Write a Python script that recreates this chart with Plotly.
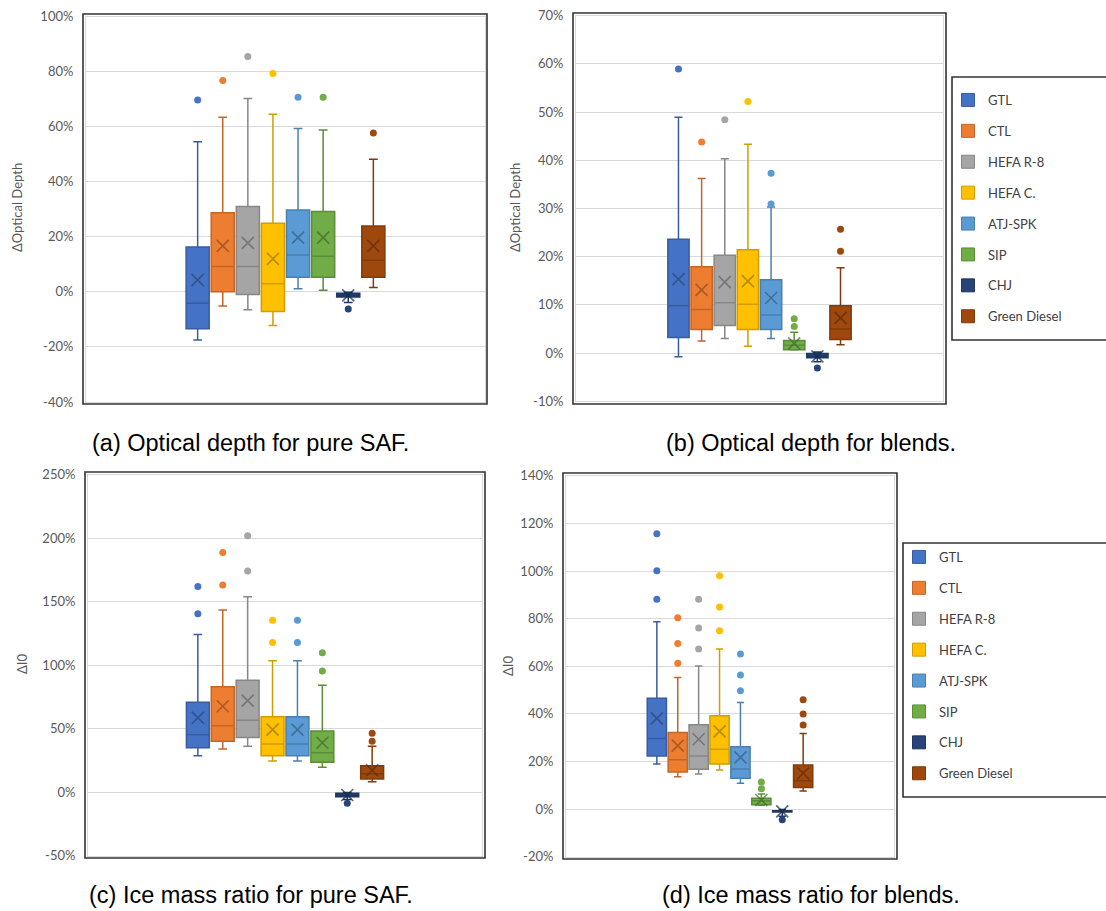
import plotly.graph_objects as go

W, H = 1106, 911

categories = ["GTL", "CTL", "HEFA R-8", "HEFA C.", "ATJ-SPK", "SIP", "CHJ", "Green Diesel"]
fill_colors = ["#4472C4", "#ED7D31", "#A5A5A5", "#FFC000", "#5B9BD5", "#70AD47", "#264478", "#9E480E"]

# ---- (a) optical depth change, pure SAF [%] ----
od_pure_low = [-17.5, -5.1, -6.5, -12.2, 1.1, 0.6, -3.9, 1.6]
od_pure_q1 = [-13.4, 0.0, -1.0, -7.1, 5.3, 5.3, -1.9, 5.3]
od_pure_median = [-4.1, 9.2, 9.2, 2.9, 13.4, 12.9, -1.2, 11.5]
od_pure_q3 = [16.3, 28.7, 31.0, 24.9, 29.7, 29.2, -0.5, 23.9]
od_pure_high = [54.5, 63.4, 70.2, 64.5, 59.3, 58.8, -0.1, 48.2]
od_pure_mean = [4.3, 16.7, 17.8, 12.0, 19.7, 19.7, -1.3, 16.7]
od_pure_outliers = [[69.7], [76.8], [85.5], [79.3], [70.7], [70.7], [-6.2], [57.7]]

# ---- (b) optical depth change, blends [%] ----
od_blend_low = [-0.8, 2.5, 3.0, 1.4, 3.0, 0.6, -1.8, 1.7]
od_blend_q1 = [3.2, 4.9, 5.7, 4.9, 4.9, 0.7, -1.0, 2.8]
od_blend_median = [9.8, 9.0, 10.4, 10.1, 7.9, 1.6, -0.6, 5.0]
od_blend_q3 = [23.6, 17.9, 20.3, 21.4, 15.2, 2.6, -0.1, 9.8]
od_blend_high = [48.9, 36.2, 40.3, 43.3, 30.3, 4.3, 0.2, 17.7]
od_blend_mean = [15.3, 13.1, 14.7, 14.9, 11.4, 2.0, -0.7, 7.3]
od_blend_outliers = [[58.9], [43.8], [48.4], [52.2], [37.3, 30.9], [7.1, 5.5], [-3.1], [25.7, 21.1]]

# ---- (c) ice mass ratio change, pure SAF [%] ----
ice_pure_low = [28.6, 33.9, 36.0, 24.4, 24.4, 19.4, -6.0, 8.1]
ice_pure_q1 = [34.9, 39.9, 43.0, 28.6, 28.6, 23.4, -3.8, 10.2]
ice_pure_median = [45.1, 52.2, 56.4, 37.8, 37.8, 31.0, -2.5, 14.4]
ice_pure_q3 = [70.6, 82.9, 87.9, 59.3, 59.3, 48.0, -1.0, 20.7]
ice_pure_high = [124.1, 143.3, 153.8, 103.4, 103.4, 84.0, -0.3, 36.0]
ice_pure_mean = [58.5, 67.5, 71.9, 49.1, 49.1, 38.8, -2.4, 17.1]
ice_pure_outliers = [[161.9, 140.4], [188.5, 163.0], [201.8, 174.0], [135.2, 117.8],
                     [135.2, 117.8], [109.7, 95.3], [-8.9], [46.2, 39.9]]

# ---- (d) ice mass ratio change, blends [%] ----
ice_blend_low = [18.9, 13.6, 14.7, 16.4, 10.8, 1.6, -3.0, 7.6]
ice_blend_q1 = [22.3, 15.5, 16.7, 18.9, 12.9, 1.8, -1.3, 9.0]
ice_blend_median = [29.6, 20.7, 22.3, 25.1, 16.8, 3.5, -1.0, 11.9]
ice_blend_q3 = [46.5, 32.1, 35.4, 39.2, 26.2, 4.5, -0.7, 18.5]
ice_blend_high = [78.7, 55.2, 60.1, 67.2, 44.8, 6.3, -0.2, 31.7]
ice_blend_mean = [38.1, 26.6, 29.3, 32.6, 21.7, 3.8, -1.0, 15.0]
ice_blend_outliers = [[115.7, 100.1, 88.1], [80.4, 69.5, 61.2], [88.1, 76.1, 67.2], [98.0, 84.9, 74.9],
                      [65.1, 56.3, 49.7], [11.3, 8.5], [-4.5], [45.9, 39.9, 35.3]]

# y-axis tick values per panel [%]
ticks_a = [-40, -20, 0, 20, 40, 60, 80, 100]
ticks_b = [-10, 0, 10, 20, 30, 40, 50, 60, 70]
ticks_c = [-50, 0, 50, 100, 150, 200, 250]
ticks_d = [-20, 0, 20, 40, 60, 80, 100, 120, 140]


def shade(hex_color, f):
    h = hex_color.lstrip("#")
    r, g, b = (int(h[i:i + 2], 16) for i in (0, 2, 4))
    return "#%02x%02x%02x" % (int(r * f), int(g * f), int(b * f))


def rgba(hex_color, f, a):
    h = hex_color.lstrip("#")
    r, g, b = (int(int(h[i:i + 2], 16) * f) for i in (0, 2, 4))
    return "rgba(%d,%d,%d,%.2f)" % (r, g, b, a)


def fx(p):
    return p / W


def fy(p):
    return 1 - p / H


TICK_FONT = dict(family="Lato", size=13, color="#595959")
AXIS_GREY = "#D9D9D9"
FRAME = "#333333"

panels = [
    dict(stats=(od_pure_low, od_pure_q1, od_pure_median, od_pure_q3, od_pure_high, od_pure_mean, od_pure_outliers),
         plot=(86, 485, 16.5, 402), frame=(83, 487, 14, 404), spacing=25.1,
         ticks=ticks_a, title="ΔOptical Depth", title_xy=(17, 208),
         caption="(a) Optical depth for pure SAF.", caption_xy=(250, 443)),
    dict(stats=(od_blend_low, od_blend_q1, od_blend_median, od_blend_q3, od_blend_high, od_blend_mean, od_blend_outliers),
         plot=(576, 943, 15.6, 401.2), frame=(573, 946, 13, 404), spacing=23.15,
         ticks=ticks_b, title="ΔOptical Depth", title_xy=(515, 208),
         caption="(b) Optical depth for blends.", caption_xy=(811, 443)),
    dict(stats=(ice_pure_low, ice_pure_q1, ice_pure_median, ice_pure_q3, ice_pure_high, ice_pure_mean, ice_pure_outliers),
         plot=(88, 482, 474.5, 855.5), frame=(85, 485, 472, 858), spacing=24.9,
         ticks=ticks_c, title="ΔI0", title_xy=(22, 664),
         caption="(c) Ice mass ratio for pure SAF.", caption_xy=(251, 895)),
    dict(stats=(ice_blend_low, ice_blend_q1, ice_blend_median, ice_blend_q3, ice_blend_high, ice_blend_mean, ice_blend_outliers),
         plot=(566, 894, 475.8, 856.6), frame=(563, 897, 473, 859), spacing=20.9,
         ticks=ticks_d, title="ΔI0", title_xy=(508, 666),
         caption="(d) Ice mass ratio for blends.", caption_xy=(811, 895)),
]

fig = go.Figure()
shapes = []
annotations = []
layout_axes = {}

for k, p in enumerate(panels):
    sfx = "" if k == 0 else str(k + 1)
    xa, ya = "x" + sfx, "y" + sfx
    low, q1, med, q3, high, mean, outl = p["stats"]

    for i, cat in enumerate(categories):
        col = fill_colors[i]
        edge = shade(col, 0.82)
        fig.add_trace(go.Box(
            x=[cat], q1=[q1[i]], median=[med[i]], q3=[q3[i]],
            lowerfence=[low[i]], upperfence=[high[i]],
            fillcolor=col, line=dict(color=edge, width=1.5),
            width=0.92, whiskerwidth=0.38, boxpoints=False,
            showlegend=False, hoverinfo="skip", xaxis=xa, yaxis=ya,
        ))
        fig.add_trace(go.Scatter(
            x=[cat] * len(outl[i]), y=outl[i], mode="markers",
            marker=dict(color=col, size=7, line=dict(width=0)),
            showlegend=False, hoverinfo="skip", xaxis=xa, yaxis=ya,
        ))
        xcol = rgba(col, 0.6, 0.7)
        fig.add_trace(go.Scatter(
            x=[cat], y=[mean[i]], mode="markers",
            marker=dict(symbol="x-thin-open", size=12, color=xcol,
                        line=dict(color=xcol, width=1.6)),
            showlegend=False, hoverinfo="skip", xaxis=xa, yaxis=ya,
        ))

    x0, x1, y0, y1 = p["plot"]
    half = (x1 - x0) / 2 / p["spacing"]
    mid = (len(categories) - 1) / 2
    tv = p["ticks"]
    layout_axes["xaxis" + sfx] = dict(
        domain=[fx(x0), fx(x1)], anchor=ya, type="category",
        categoryorder="array", categoryarray=categories,
        range=[mid - half, mid + half], showticklabels=False, ticks="",
        showgrid=False, zeroline=False, showline=True, linecolor=AXIS_GREY,
        linewidth=1, mirror=True,
    )
    layout_axes["yaxis" + sfx] = dict(
        domain=[fy(y1), fy(y0)], anchor=xa, range=[tv[0], tv[-1]],
        tickmode="array", tickvals=tv, ticktext=["%d%%" % v for v in tv],
        tickfont=TICK_FONT,
        showgrid=True, gridcolor=AXIS_GREY, gridwidth=1, zeroline=False,
        showline=True, linecolor=AXIS_GREY, linewidth=1, mirror=True,
        ticks="", ticklabelstandoff=9,
    )

    fx0, fx1, fy0, fy1 = p["frame"]
    shapes.append(dict(type="rect", xref="paper", yref="paper",
                       x0=fx(fx0), x1=fx(fx1), y0=fy(fy1), y1=fy(fy0),
                       line=dict(color=FRAME, width=1.6), fillcolor="rgba(0,0,0,0)"))

    tx, ty = p["title_xy"]
    annotations.append(dict(text=p["title"], xref="paper", yref="paper",
                            x=fx(tx), y=fy(ty), xanchor="center", yanchor="middle",
                            textangle=-90, showarrow=False,
                            font=dict(family="Lato", size=13, color="#595959")))
    cx, cy = p["caption_xy"]
    annotations.append(dict(text=p["caption"], xref="paper", yref="paper",
                            x=fx(cx), y=fy(cy), xanchor="center", yanchor="middle",
                            showarrow=False,
                            font=dict(family="Liberation Sans", size=23.5, color="#000000")))

# legend entries for panels (b) and (d)
for legend_id, axes in (("legend", ("x2", "y2")), ("legend2", ("x4", "y4"))):
    for i, cat in enumerate(categories):
        fig.add_trace(go.Scatter(
            x=[None], y=[None], mode="markers", name=cat,
            marker=dict(symbol="square", size=13, color=fill_colors[i],
                        line=dict(color=shade(fill_colors[i], 0.82), width=1)),
            legend=legend_id, legendgroup=legend_id + cat,
            xaxis=axes[0], yaxis=axes[1], hoverinfo="skip",
        ))

# legend borders
for lx0, ly0, ly1 in ((952, 77, 340), (903, 543, 797)):
    shapes.append(dict(type="rect", xref="paper", yref="paper",
                       x0=fx(lx0), x1=fx(W + 20), y0=fy(ly1), y1=fy(ly0),
                       line=dict(color=FRAME, width=1.6), fillcolor="rgba(0,0,0,0)"))

legend_style = dict(xref="paper", yref="paper", xanchor="left", yanchor="top",
                    bgcolor="rgba(0,0,0,0)", borderwidth=0, tracegroupgap=11,
                    font=dict(family="Lato", size=13, color="#404040"),
                    itemclick=False, itemdoubleclick=False)

fig.update_layout(
    width=W, height=H,
    margin=dict(l=0, r=0, t=0, b=0, autoexpand=False),
    paper_bgcolor="white", plot_bgcolor="white",
    showlegend=True,
    legend=dict(x=fx(948), y=fy(85), **legend_style),
    legend2=dict(x=fx(899), y=fy(542), **legend_style),
    shapes=shapes, annotations=annotations,
    **layout_axes,
)

fig.write_html("out.html")
